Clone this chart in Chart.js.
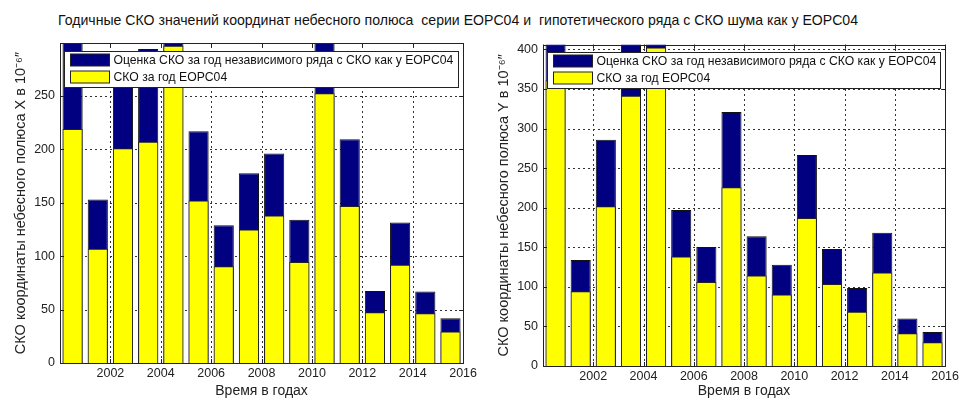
<!DOCTYPE html>
<html>
<head>
<meta charset="utf-8">
<script src="https://cdn.jsdelivr.net/npm/chart.js@4/dist/chart.umd.min.js"></script>
<style>
  body { margin: 0; background: #fff; width: 962px; height: 400px; position: relative; overflow: hidden; }
  #title { position: absolute; left: 58px; top: 12px; font: 14.1px "Liberation Sans", Arial, sans-serif; color: #111; white-space: pre; }
  canvas { position: absolute; top: 0; }
  #cx { left: 0; }
  #cy { left: 480px; }
</style>
</head>
<body>
<div id="title">Годичные СКО значений координат небесного полюса  серии EOPC04 и  гипотетического ряда с СКО шума как у EOPC04</div>
<canvas id="cx" width="480" height="400"></canvas>
<canvas id="cy" width="482" height="400"></canvas>
<script>
// bar centres (years)
const years = [2000.5, 2001.5, 2002.5, 2003.5, 2004.5, 2005.5, 2006.5, 2007.5,
               2008.5, 2009.5, 2010.5, 2011.5, 2012.5, 2013.5, 2014.5, 2015.5];

// X coordinate of the pole, 10^-6 arcsec
const estX = [330, 153, 280, 294, 320, 217, 129, 177.5, 196, 134, 320, 209.5, 67.5, 131.5, 67, 42];
const eopX = [219, 107, 201, 207, 297, 152, 90.5, 125, 138, 94.5, 252.5, 147, 47.5, 92, 46.5, 29.5];

// Y coordinate of the pole
const estY = [440, 134, 286, 420, 430, 197, 150.5, 321, 164, 128, 266.5, 148, 98.5, 168.5, 60, 43];
const eopY = [361, 94.5, 202, 341.5, 402.5, 138.5, 106, 226, 114.5, 90.5, 187, 103.5, 68.5, 118, 41.5, 30];

// tick labels
const xTicks = [2000, 2002, 2004, 2006, 2008, 2010, 2012, 2014, 2016];
const yTicksX = [0, 50, 100, 150, 200, 250];
const yTicksY = [0, 50, 100, 150, 200, 250, 300, 350, 400];

const legendLabels = ['Оценка СКО за год независимого ряда с СКО как у EOPC04', 'СКО за год EOPC04'];
const xTitle = 'Время в годах';

Chart.defaults.font.family = '"Liberation Sans", Arial, sans-serif';
Chart.defaults.color = '#222';

const NAVY = '#000080', YELLOW = '#ffff00';

// dotted matlab-style grid, drawn under the bars
const gridPlugin = {
  id: 'mgrid',
  beforeDatasetsDraw(chart) {
    const {ctx, chartArea: a, scales} = chart;
    ctx.save();
    ctx.strokeStyle = '#333';
    ctx.lineWidth = 1;
    ctx.setLineDash([2, 3]);
    ctx.beginPath();
    scales.x.ticks.forEach(t => {
      const px = Math.round(scales.x.getPixelForValue(t.value)) + 0.5;
      ctx.moveTo(px, a.bottom); ctx.lineTo(px, a.top);
    });
    scales.y.ticks.forEach(t => {
      const py = Math.round(scales.y.getPixelForValue(t.value)) + 0.5;
      ctx.moveTo(a.left, py); ctx.lineTo(a.right, py);
    });
    ctx.stroke();
    ctx.restore();
  }
};

// box, inner ticks and legend inside the axes
const boxPlugin = {
  id: 'box',
  afterDraw(chart) {
    const {ctx, chartArea: a, scales} = chart;
    ctx.save();
    ctx.strokeStyle = '#222';
    ctx.lineWidth = 1;
    ctx.beginPath();
    scales.x.ticks.forEach(t => {
      const px = Math.round(scales.x.getPixelForValue(t.value)) + 0.5;
      ctx.moveTo(px, a.bottom); ctx.lineTo(px, a.bottom - 4);
      ctx.moveTo(px, a.top); ctx.lineTo(px, a.top + 4);
    });
    scales.y.ticks.forEach(t => {
      const py = Math.round(scales.y.getPixelForValue(t.value)) + 0.5;
      ctx.moveTo(a.left, py); ctx.lineTo(a.left + 4, py);
      ctx.moveTo(a.right, py); ctx.lineTo(a.right - 4, py);
    });
    ctx.stroke();
    ctx.strokeRect(Math.round(a.left) + 0.5, Math.round(a.top) + 0.5,
                   Math.round(a.right - a.left), Math.round(a.bottom - a.top));

    // legend box
    const lx = Math.round(a.left + 4) + 0.5, ly = Math.round(a.top + 7.5) + 0.5;
    const lw = Math.round(a.right - a.left - 9), lh = 36;
    ctx.fillStyle = '#fff';
    ctx.fillRect(lx, ly, lw, lh);
    ctx.strokeRect(lx, ly, lw, lh);
    const colors = [NAVY, YELLOW];
    ctx.font = '12.2px "Liberation Sans", Arial, sans-serif';
    ctx.textBaseline = 'middle';
    legendLabels.forEach((lab, i) => {
      const sy = ly + 2.5 + i * 17;
      ctx.fillStyle = colors[i];
      ctx.fillRect(lx + 6, sy, 39, 12);
      ctx.strokeRect(lx + 6, sy, 39, 12);
      ctx.fillStyle = '#111';
      ctx.fillText(lab, lx + 49, sy + 6.5);
    });
    ctx.restore();
  }
};

function makeChart(id, est, eop, yMax, yTicks, yLabel, yAxisW, padRight, padTop, xAxisH, yTitlePad) {
  const mk = vals => vals.map((v, i) => ({x: years[i], y: v}));
  return new Chart(document.getElementById(id), {
    type: 'bar',
    data: {
      datasets: [
        { label: legendLabels[0], data: mk(est), backgroundColor: NAVY, borderColor: '#111',
          borderWidth: 1, order: 2, clip: 0 },
        { label: legendLabels[1], data: mk(eop), backgroundColor: YELLOW, borderColor: '#222',
          borderWidth: 1, order: 1, clip: 0 }
      ]
    },
    options: {
      responsive: false,
      animation: false,
      devicePixelRatio: 1,
      layout: { padding: { left: 0, right: padRight, top: padTop, bottom: 0 } },
      datasets: { bar: { grouped: false, categoryPercentage: 1, barPercentage: 0.8 } },
      plugins: { legend: { display: false }, tooltip: { enabled: false } },
      scales: {
        x: {
          type: 'linear',
          min: 2000, max: 2016,
          offset: false,
          afterFit: s => { s.height = xAxisH; },
          afterBuildTicks: s => { s.ticks = xTicks.map(v => ({value: v})); },
          border: { display: false },
          grid: { display: false, offset: false, drawTicks: false },
          ticks: {
            padding: 3, maxRotation: 0, autoSkip: false,
            font: { size: 12.5 },
            callback: v => v === 2000 ? '' : String(v)
          },
          title: { display: true, text: xTitle, font: { size: 14 }, padding: { top: 0, bottom: 0 } }
        },
        y: {
          min: 0, max: yMax,
          afterFit: s => { s.width = yAxisW; },
          afterBuildTicks: s => { s.ticks = yTicks.map(v => ({value: v})); },
          border: { display: false },
          grid: { display: false, drawTicks: false },
          ticks: { padding: 5, autoSkip: false, font: { size: 12.5 }, callback: v => String(v) },
          title: { display: true, text: yLabel, font: { size: 14.5 }, padding: { top: yTitlePad, bottom: 0 } }
        }
      }
    },
    plugins: [gridPlugin, boxPlugin]
  });
}

makeChart('cx', estX, eopX, 299.5, yTicksX, 'СКО координаты небесного полюса X в 10⁻⁶″', 60, 15, 43, 37, 12);
makeChart('cy', estY, eopY, 406, yTicksY, 'СКО координаты небесного полюса Y в 10⁻⁶″', 63, 14, 44.7, 34, 15);
</script>
</body>
</html>
